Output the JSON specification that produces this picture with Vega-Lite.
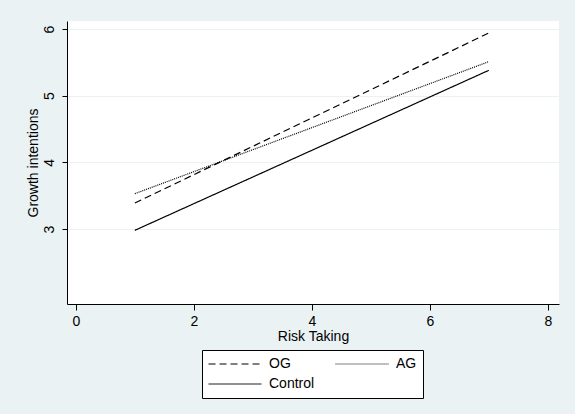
{
  "$schema": "https://vega.github.io/schema/vega-lite/v6.json",
  "width": 492,
  "height": 283,
  "autosize": {"type": "none"},
  "padding": {"left": 67, "top": 21, "right": 16, "bottom": 110},
  "background": "#EAF2F3",
  "config": {
    "view": {"fill": "white", "stroke": null},
    "font": "Liberation Sans",
    "axis": {
      "domainColor": "black",
      "tickColor": "black",
      "labelColor": "black",
      "titleColor": "black",
      "titleFontWeight": "normal",
      "labelFont": "Liberation Sans",
      "titleFont": "Liberation Sans"
    }
  },
  "data": {
    "values": [
      {"risk": 1, "growth": 3.39, "group": "OG"},
      {"risk": 7, "growth": 5.94, "group": "OG"},
      {"risk": 1, "growth": 3.53, "group": "AG"},
      {"risk": 7, "growth": 5.51, "group": "AG"},
      {"risk": 1, "growth": 2.98, "group": "Control"},
      {"risk": 7, "growth": 5.38, "group": "Control"}
    ]
  },
  "mark": {"type": "line", "color": "black", "strokeWidth": 1.2, "clip": true},
  "encoding": {
    "x": {
      "field": "risk",
      "type": "quantitative",
      "scale": {"domain": [-0.15, 8.19], "nice": false, "zero": false},
      "axis": {
        "title": "Risk Taking",
        "values": [0, 2, 4, 6, 8],
        "grid": false,
        "tickSize": 6,
        "labelPadding": 4,
        "labelFontSize": 14,
        "titleFontSize": 14,
        "titlePadding": 1
      }
    },
    "y": {
      "field": "growth",
      "type": "quantitative",
      "scale": {"domain": [1.875, 6.12], "nice": false, "zero": false},
      "axis": {
        "title": "Growth intentions",
        "values": [3, 4, 5, 6],
        "grid": true,
        "gridColor": "#EAF2F3",
        "gridWidth": 1,
        "tickSize": 5,
        "labelAngle": -90,
        "labelAlign": "center",
        "labelBaseline": "bottom",
        "labelPadding": 6,
        "labelFontSize": 14,
        "titleFontSize": 14,
        "titlePadding": 2
      }
    },
    "strokeDash": {
      "field": "group",
      "type": "nominal",
      "scale": {"domain": ["OG", "AG", "Control"], "range": [[7, 4], [1, 1], [1, 0]]},
      "legend": {
        "title": null,
        "orient": "none",
        "legendX": 135,
        "legendY": 329,
        "columns": 2,
        "direction": "horizontal",
        "gridAlign": "each",
        "columnPadding": 20,
        "rowPadding": 4,
        "padding": 6,
        "clipHeight": 16,
        "strokeColor": "black",
        "fillColor": "white",
        "symbolType": "stroke",
        "symbolSize": 2800,
        "symbolStrokeColor": "black",
        "symbolStrokeWidth": 1,
        "labelFontSize": 14,
        "labelColor": "black",
        "labelOffset": 7,
        "labelFont": "Liberation Sans"
      }
    }
  }
}
